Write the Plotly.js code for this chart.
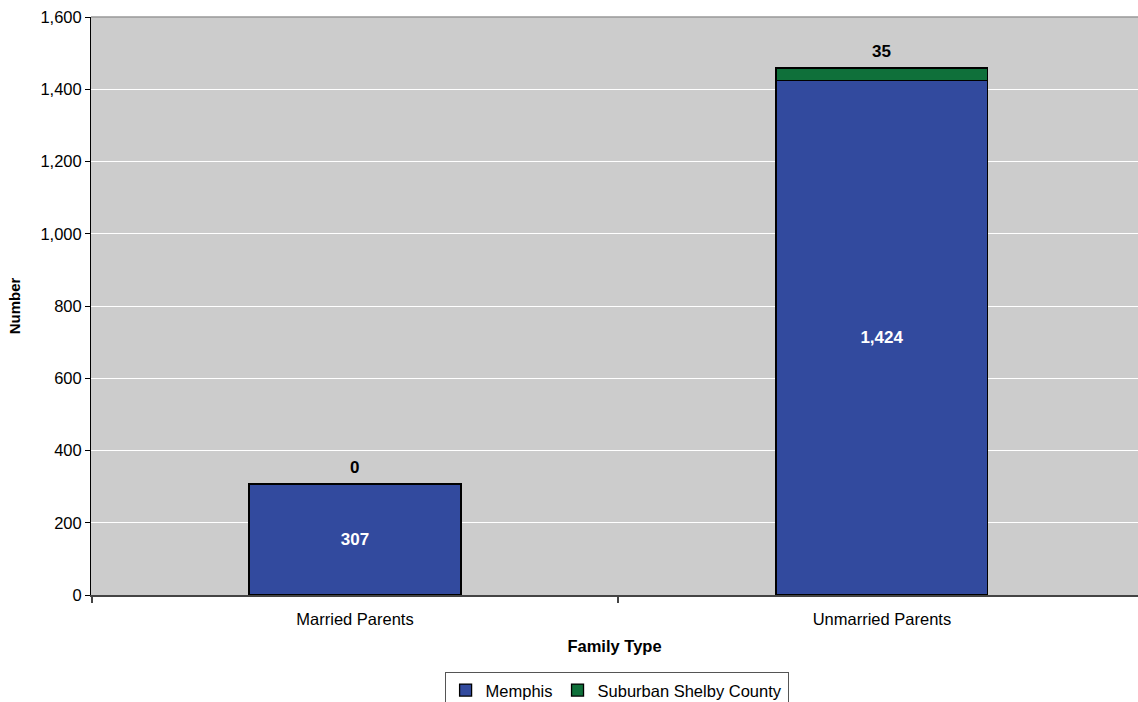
<!DOCTYPE html>
<html>
<head>
<meta charset="utf-8">
<script src="https://cdn.plot.ly/plotly-3.0.1.min.js"></script>
<style>html,body{margin:0;padding:0;background:#fff;}#chart{width:1138px;height:702px;}</style>
</head>
<body>
<div id="chart"></div>
<script>
const categories = ["Married Parents", "Unmarried Parents"];
const memphis = [307, 1424];
const suburban = [0, 35];
const seriesNames = ["Memphis", "Suburban Shelby County"];
const yTicks = [0, 200, 400, 600, 800, 1000, 1200, 1400, 1600];

const fmt = v => v.toLocaleString('en-US');
const FONT = 'Liberation Sans, Arial, sans-serif';

const traces = [
  {
    type: 'bar', name: seriesNames[0], x: categories, y: memphis,
    marker: {color: '#324A9E', line: {color: '#000', width: 1.3}},
    text: memphis.map(v => '<b>' + fmt(v) + '</b>'),
    textposition: 'inside', insidetextanchor: 'middle',
    textfont: {color: '#fff', size: 17, family: FONT},
    hoverinfo: 'skip'
  },
  {
    type: 'bar', name: seriesNames[1], x: categories, y: suburban,
    marker: {color: '#0F703A', line: {color: '#000', width: 1.3}},
    textposition: 'none',
    hoverinfo: 'skip'
  }
];

const annotations = categories.map((c, i) => ({
  x: c, y: memphis[i] + suburban[i], xref: 'x', yref: 'y',
  text: '<b>' + fmt(suburban[i]) + '</b>', showarrow: false,
  yanchor: 'bottom', yshift: 5,
  font: {size: 17, color: '#000', family: FONT}
}));

const layout = {
  width: 1138, height: 702,
  margin: {l: 91, r: 0, t: 17, b: 107, autoexpand: false},
  paper_bgcolor: '#fff', plot_bgcolor: '#CCCCCC',
  barmode: 'stack', bargap: 0.598,
  font: {family: FONT, size: 16, color: '#000'},
  showlegend: true,
  legend: {
    orientation: 'h', x: 0.502, xanchor: 'center', y: -0.133, yanchor: 'top',
    bordercolor: '#555', borderwidth: 1, bgcolor: '#fff',
    font: {size: 16.5, family: FONT}, traceorder: 'normal',
    itemwidth: 30
  },
  xaxis: {
    type: 'category', range: [-0.501, 1.486],
    showline: true, linecolor: '#444', linewidth: 2,
    ticks: 'outside', tickson: 'boundaries', ticklen: 6, tickcolor: '#444', tickwidth: 2,
    tickfont: {size: 16.5, family: FONT}, ticklabelstandoff: 8,
    title: {text: '<b>Family Type</b>', font: {size: 16.5, family: FONT}, standoff: 14},
    showgrid: false, fixedrange: true
  },
  yaxis: {
    range: [0, 1600], tickvals: yTicks, ticktext: yTicks.map(fmt),
    showline: true, linecolor: '#000', linewidth: 1,
    ticks: 'outside', ticklen: 5, tickcolor: '#000',
    tickfont: {size: 16.5, family: FONT},
    showgrid: true, gridcolor: '#fff', gridwidth: 1,
    zeroline: false,
    title: {text: '<b>Number</b>', font: {size: 15, family: FONT}, standoff: 16},
    fixedrange: true
  },
  annotations: annotations,
  shapes: [
    {type: 'line', xref: 'paper', yref: 'paper', x0: 0, x1: 1, y0: 1, y1: 1,
     line: {color: '#999', width: 1.5}}
  ]
};

Plotly.newPlot('chart', traces, layout, {displayModeBar: false, staticPlot: true});
</script>
</body>
</html>
